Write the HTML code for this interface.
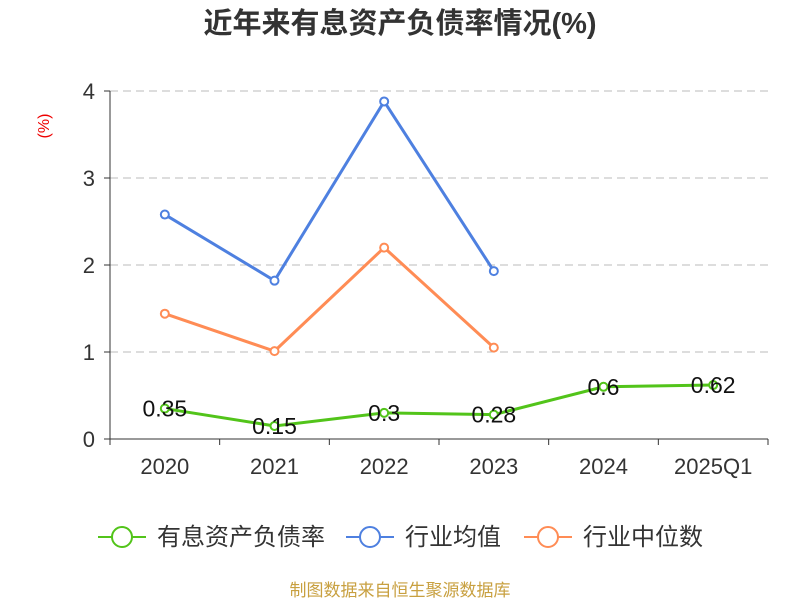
<!DOCTYPE html>
<html><head><meta charset="utf-8"><style>
body{margin:0;background:#fff;}
svg text{font-family:"Liberation Sans","Noto Sans CJK SC",sans-serif;}
</style></head><body>
<svg width="800" height="600" xmlns="http://www.w3.org/2000/svg">
<text x="400" y="33" text-anchor="middle" font-size="29" font-weight="bold" fill="#333">近年来有息资产负债率情况(%)</text>
<text x="49" y="126" text-anchor="middle" font-size="16" fill="#e00" transform="rotate(-90 49 126)">(%)</text>
<g id="grid"></g><g id="axes"></g><g id="series"></g>
<g>
<g><line x1="98" y1="537" x2="146" y2="537" stroke="#52c41a" stroke-width="2"/><circle cx="122" cy="537" r="10" fill="#fff" stroke="#52c41a" stroke-width="2"/><text x="157" y="545" font-size="24" fill="#333">有息资产负债率</text></g>
<g><line x1="346" y1="537" x2="394" y2="537" stroke="#4e80e0" stroke-width="2"/><circle cx="370" cy="537" r="10" fill="#fff" stroke="#4e80e0" stroke-width="2"/><text x="405" y="545" font-size="24" fill="#333">行业均值</text></g>
<g><line x1="524" y1="537" x2="572" y2="537" stroke="#ff8c55" stroke-width="2"/><circle cx="548" cy="537" r="10" fill="#fff" stroke="#ff8c55" stroke-width="2"/><text x="583" y="545" font-size="24" fill="#333">行业中位数</text></g>
</g>
<text x="400" y="596" text-anchor="middle" font-size="17" fill="#c8a040">制图数据来自恒生聚源数据库</text>
</svg>
<script>
const categories=["2020","2021","2022","2023","2024","2025Q1"];
const companyVals=[0.35,0.15,0.3,0.28,0.6,0.62];
const avgVals=[2.58,1.82,3.88,1.93];
const medianVals=[1.44,1.01,2.20,1.05];
const yTicks=[0,1,2,3,4];
const NS="http://www.w3.org/2000/svg";
const x0=110,x1=768,y0=439,y1=91,yMax=4;
const band=(x1-x0)/categories.length;
const X=i=>x0+band*(i+0.5);
const Y=v=>y0-(v/yMax)*(y0-y1);
function mk(t,a,p){const e=document.createElementNS(NS,t);for(const k in a)e.setAttribute(k,a[k]);p.appendChild(e);return e;}
const grid=document.getElementById('grid'),axes=document.getElementById('axes'),ser=document.getElementById('series');
yTicks.forEach(v=>{
 if(v>0){const g=mk('line',{x1:x0,x2:x1,y1:Y(v),y2:Y(v),stroke:'#bbb','stroke-dasharray':'8,5'},grid);
 
 }
 const t=mk('text',{x:95,y:Y(v)+8,'text-anchor':'end','font-size':22,fill:'#333'},axes);t.textContent=v;
 
 
 mk('line',{x1:104,x2:x0,y1:Y(v),y2:Y(v),stroke:'#333'},axes);
});
const ya=mk('line',{x1:x0,x2:x0,y1:y1,y2:y0,stroke:'#333'},axes);


const xa=mk('line',{x1:x0,x2:x1,y1:y0,y2:y0,stroke:'#333'},axes);


for(let i=0;i<=categories.length;i++)mk('line',{x1:x0+band*i,x2:x0+band*i,y1:y0,y2:y0+6,stroke:'#333'},axes);
categories.forEach((c,i)=>{const t=mk('text',{x:X(i),y:474,'text-anchor':'middle','font-size':22,fill:'#333'},axes);t.textContent=c;
 
 });
function series(vals,color,name,labels){
 const g=mk('g',{},ser);
 
 
 mk('polyline',{points:vals.map((v,i)=>X(i)+','+Y(v)).join(' '),fill:'none',stroke:color,'stroke-width':3},g);
 vals.forEach((v,i)=>{const c=mk('circle',{cx:X(i),cy:Y(v),r:4,fill:'#fff',stroke:color,'stroke-width':2},g);
  
  
  if(labels){const t=mk('text',{x:X(i),y:Y(v)+8,'text-anchor':'middle','font-size':23,fill:'#111'},g);t.textContent=v;
   
   }});
}
series(avgVals,'#4e80e0','industry-avg-line',false);
series(medianVals,'#ff8c55','industry-median-line',false);
series(companyVals,'#52c41a','company-line',true);
</script>
</body></html>
